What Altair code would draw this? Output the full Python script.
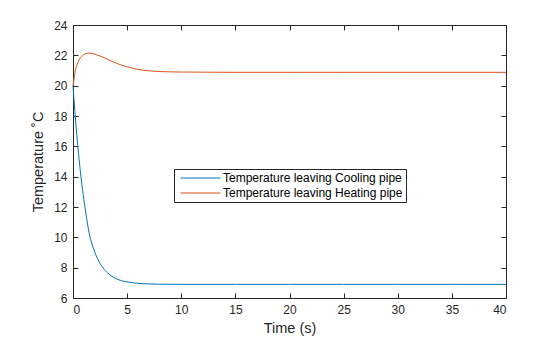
import altair as alt
import pandas as pd

# Time samples (s)
cool_t = [0, 0.1, 0.25, 0.5, 0.75, 1.0, 1.25, 1.5, 1.75, 2.0, 2.25, 2.5, 2.75, 3.0,
          3.25, 3.5, 4.0, 4.5, 5.0, 6.0, 7.0, 8.0, 10, 15, 20, 25, 30, 35, 40]
cool_T = [20.0, 19.0, 17.6, 15.6, 13.9, 12.5, 11.3, 10.25, 9.56, 9.04, 8.62, 8.28,
          8.01, 7.79, 7.62, 7.48, 7.27, 7.14, 7.06, 6.97, 6.93, 6.91, 6.9, 6.9, 6.9,
          6.9, 6.9, 6.9, 6.9]

heat_t = [0, 0.1, 0.25, 0.5, 0.75, 1.0, 1.25, 1.5, 1.75, 2.0, 2.5, 3.0, 3.5, 4.0,
          4.5, 5.0, 5.5, 6.0, 7.0, 8.0, 9.0, 10, 12, 15, 20, 25, 30, 35, 40]
heat_T = [20.0, 20.5, 21.1, 21.6, 21.9, 22.05, 22.12, 22.15, 22.13, 22.08, 21.95,
          21.8, 21.63, 21.48, 21.35, 21.24, 21.15, 21.07, 20.98, 20.93, 20.91, 20.9,
          20.89, 20.88, 20.88, 20.88, 20.88, 20.88, 20.88]

series_names = ["Temperature leaving Cooling pipe", "Temperature leaving Heating pipe"]
series_colors = ["#0072BD", "#D95319"]
x_ticks = [0, 5, 10, 15, 20, 25, 30, 35, 40]
y_ticks = [6, 8, 10, 12, 14, 16, 18, 20, 22, 24]

df = pd.concat([
    pd.DataFrame({"t": cool_t, "T": cool_T, "series": series_names[0], "order": range(len(cool_t))}),
    pd.DataFrame({"t": heat_t, "T": heat_T, "series": series_names[1], "order": range(len(heat_t))}),
])

FONT = "Liberation Sans"
AX = "#262626"

xscale = alt.Scale(domain=[0, 40], nice=False, zero=False)
yscale = alt.Scale(domain=[6, 24], nice=False, zero=False)

common_axis = dict(grid=False, domain=False, tickSize=5, offset=-5, tickColor=AX,
                   tickWidth=1, labelColor=AX, labelFont=FONT, labelFontSize=12,
                   titleFont=FONT, titleFontSize=14.5, titleColor=AX, titleFontWeight="normal")

lines = alt.Chart(df).mark_line(strokeWidth=1, interpolate="monotone").encode(
    x=alt.X("t:Q", scale=xscale,
            axis=alt.Axis(values=x_ticks, title="Time (s)", labelPadding=6,
                          titlePadding=6, **common_axis)),
    y=alt.Y("T:Q", scale=yscale,
            axis=alt.Axis(values=y_ticks, title="Temperature ˚C", labelPadding=6,
                          titlePadding=8, **common_axis)),
    stroke=alt.Stroke("series:N",
                    scale=alt.Scale(domain=series_names, range=series_colors),
                    legend=alt.Legend(orient="none", legendX=101, legendY=144, title=None,
                                      padding=3, strokeColor=AX, fillColor="white",
                                      symbolType="M-1,0H15", symbolSize=25,
                                      symbolStrokeWidth=1, labelOffset=34,
                                      labelFont=FONT, labelFontSize=12, labelColor="black",
                                      rowPadding=3, labelLimit=400)),
    order="order:Q",
)

top_axis = dict(grid=False, domain=False, tickSize=5, offset=-5, tickColor=AX,
                tickWidth=1, labels=False, title=None)

mirror = alt.Chart(df).mark_line(opacity=0).encode(
    x=alt.X("t:Q", scale=xscale, axis=alt.Axis(orient="top", values=x_ticks, **top_axis)),
    y=alt.Y("T:Q", scale=yscale, axis=alt.Axis(orient="right", values=y_ticks, **top_axis)),
    detail="series:N",
)

chart = alt.layer(lines, mirror).resolve_axis(x="independent", y="independent").properties(
    width=433, height=273,
    autosize=alt.AutoSizeParams(type="none"),
    padding={"left": 73, "top": 25, "right": 54, "bottom": 39},
    background="white",
).configure_view(stroke=AX, strokeWidth=1)

chart.save("out.html", embed_options={"renderer": "svg", "actions": False})
